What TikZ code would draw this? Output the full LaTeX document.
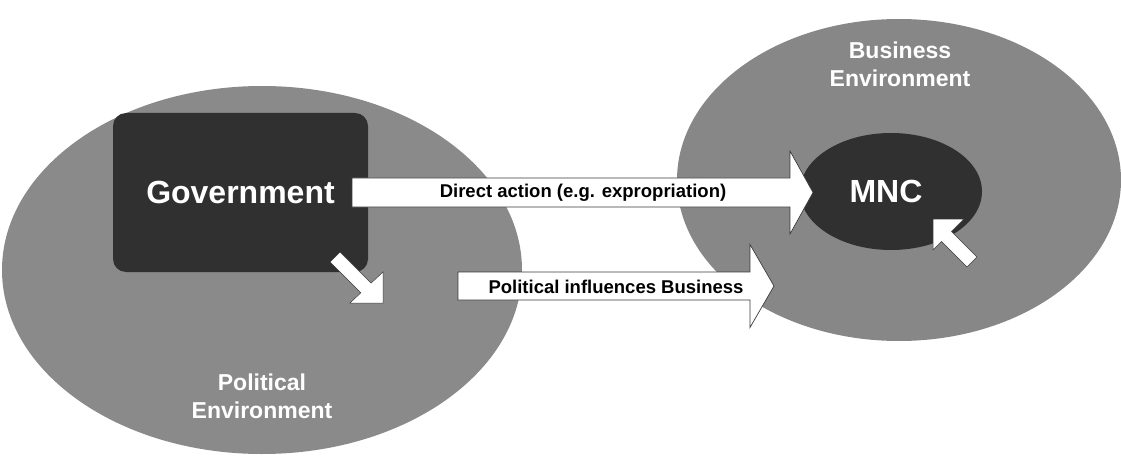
\documentclass[tikz,border=0pt]{standalone}
\usepackage{fontspec}
\setmainfont{Liberation Sans}
\usetikzlibrary{shapes.geometric,calc}
\definecolor{envgray}{HTML}{8A8A8A}
\definecolor{envgrayb}{HTML}{878787}
\definecolor{darkfill}{HTML}{303030}
\definecolor{edgecol}{HTML}{3A3A3A}
\begin{document}
\begin{tikzpicture}[x=1pt,y=-1pt,
  envell/.style={ellipse, draw=none, inner sep=0pt, outer sep=0pt},
  envlabel/.style={text=white, align=center, font=\bfseries\fontsize{23}{28}\selectfont, inner sep=0pt},
  bigword/.style={text=white, font=\bfseries\fontsize{32}{38}\selectfont, inner sep=0pt},
  arrowtext/.style={text=black, font=\bfseries\fontsize{18.5}{22}\selectfont, inner sep=0pt},
  blockarrow/.style={fill=white, draw=edgecol, line width=0.7pt, line join=miter},
  whitearrow/.style={fill=white, draw=edgecol, line width=0.5pt}]
\useasboundingbox (0,0) rectangle (1121,457);

% environments
\node[envell, fill=envgray, minimum width=520pt, minimum height=368pt] (polenv) at (262,270) {};
\node[envell, fill=envgrayb, minimum width=444pt, minimum height=322pt] (busenv) at (899,180) {};

% government box and MNC
\node[fill=darkfill, rounded corners=13pt, minimum width=255pt, minimum height=159pt, inner sep=0pt, outer sep=0pt] (gov) at (240.5,192.5) {};
\node[bigword] (govtext) at (gov.center) {Government};
\node[envell, fill=darkfill, minimum width=182pt, minimum height=117pt] (mnc) at (891,191.5) {};
\node[bigword] (mnctext) at (886,191) {MNC};

% environment labels
\node[envlabel] (pollabel) at (262,396) {Political\\Environment};
\node[envlabel] (buslabel) at (900,64) {Business\\Environment};

% direct action arrow
\coordinate (dtail) at ($(gov.east)+(-16,0)$);
\coordinate (dtip) at ($(mnc.west)+(13,1)$);
\draw[blockarrow] ($(dtail)+(0,-14.5)$) -- ($(dtip)+(-23,-14.5)$) -- ($(dtip)+(-23,-41.5)$)
  -- (dtip) -- ($(dtip)+(-23,41.5)$) -- ($(dtip)+(-23,14.5)$) -- ($(dtail)+(0,14.5)$) -- cycle;
\node[arrowtext] (dtext) at (583,193) {Direct action (e.g. expropriation)};

% political influences arrow
\coordinate (ptail) at (458,286);
\coordinate (ptip) at (774,286);
\draw[blockarrow] ($(ptail)+(0,-14)$) -- ($(ptip)+(-24,-14)$) -- ($(ptip)+(-24,-41.5)$)
  -- (ptip) -- ($(ptip)+(-24,41.5)$) -- ($(ptip)+(-24,14)$) -- ($(ptail)+(0,14)$) -- cycle;
\node[arrowtext] (ptext) at (616,287) {Political influences Business};

% small arrow from government into political environment
\coordinate (gtip) at (383,303);
\draw[whitearrow] (330,262) -- (360.8,292.8) -- (350,303) -- (gtip) -- (383,272) -- (371.1,283.1) -- (340,252) -- cycle;

% small arrow from business environment into MNC
\coordinate (mtip) at (933,219);
\draw[whitearrow] (977,257) -- (951.5,231.5) -- (964,219) -- (mtip) -- (933,250) -- (941.5,241.5) -- (967,267) -- cycle;
\end{tikzpicture}
\end{document}
